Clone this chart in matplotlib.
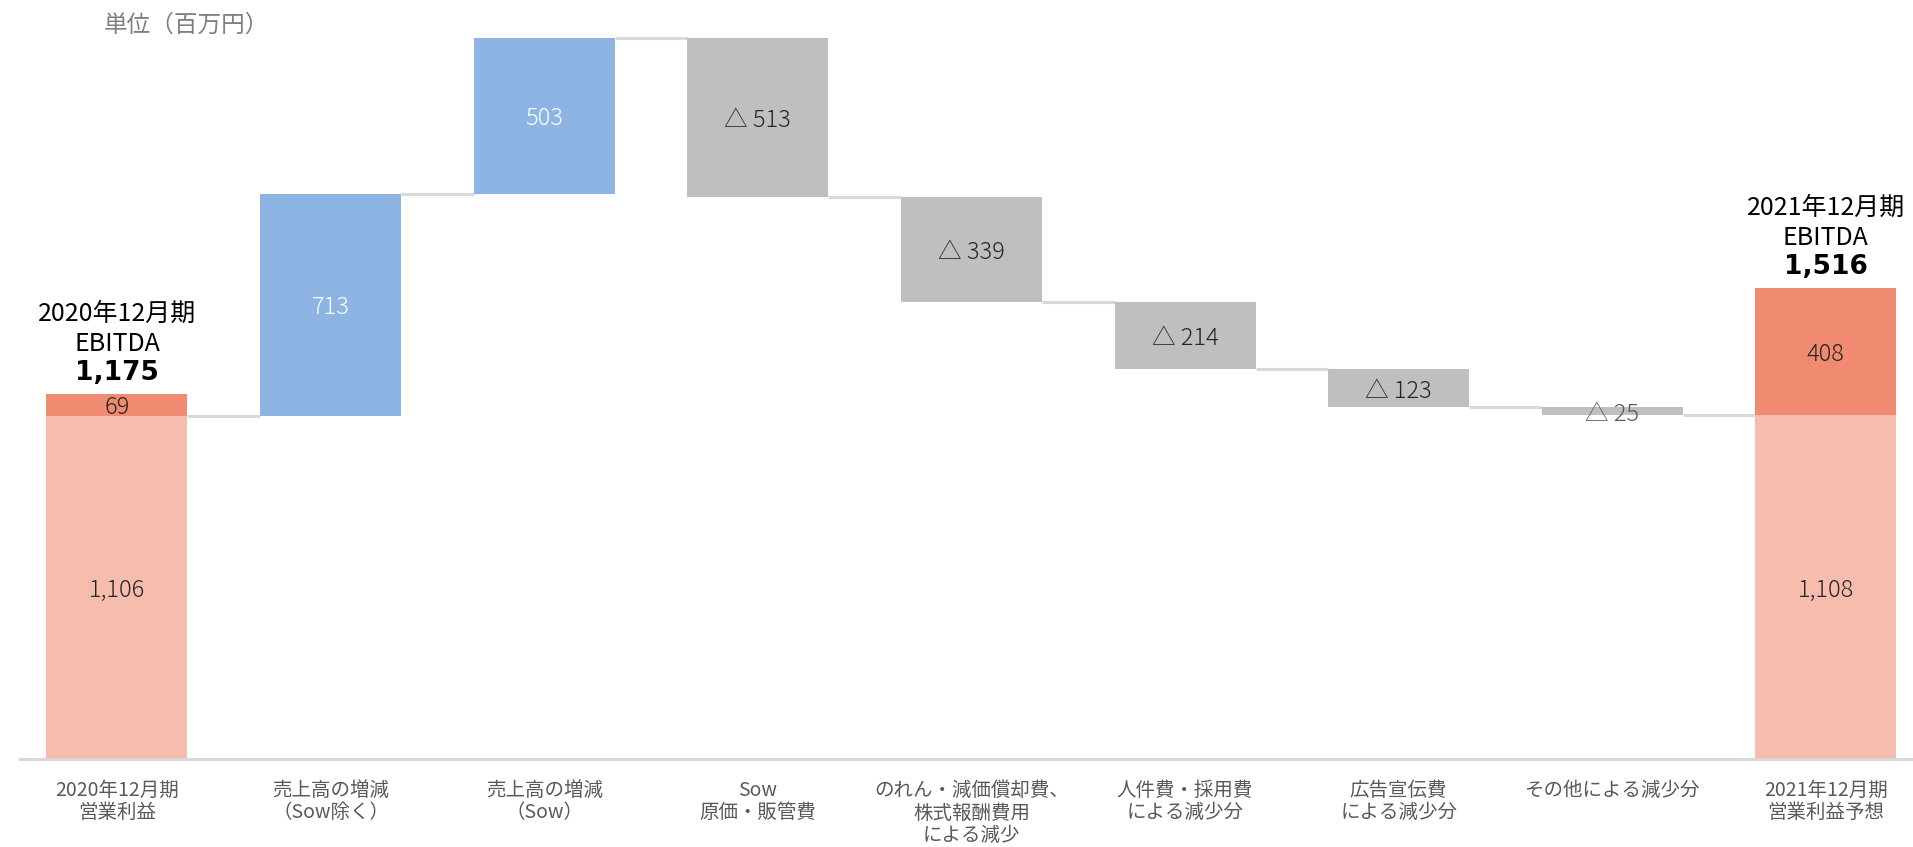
import matplotlib
matplotlib.use("Agg")
import matplotlib.pyplot as plt

plt.rcParams['font.family'] = ['Noto Sans CJK JP', 'DejaVu Sans']

# ---------------- data ----------------
categories = ["2020年12月期\n営業利益", "売上高の増減\n（Sow除く）", "売上高の増減\n（Sow）",
              "Sow\n原価・販管費", "のれん・減価償却費、\n株式報酬費用\nによる減少",
              "人件費・採用費\nによる減少分", "広告宣伝費\nによる減少分",
              "その他による減少分", "2021年12月期\n営業利益予想"]
start_op = 1106          # 2020 operating profit
start_extra = 69         # EBITDA add-back 2020
start_ebitda = 1175
deltas = [713, 503, -513, -339, -214, -123, -25]
end_op = 1108            # 2021 operating profit forecast
end_extra = 408          # EBITDA add-back 2021
end_ebitda = 1516
start_title = "2020年12月期\nEBITDA"
end_title = "2021年12月期\nEBITDA"
unit_label = "単位（百万円）"

# ---------------- style ----------------
C_LIGHT = "#F6BCAE"
C_DARK = "#F08A71"
C_UP = "#8EB4E3"
C_DOWN = "#BFBFBF"
C_CONN = "#D9D9D9"
C_TXT = "#262626"
C_CAT = "#595959"
W = 0.66
LBL = 17

fig = plt.figure(figsize=(19.13, 8.47), dpi=100)
ax = fig.add_axes([20/1913, 88/847, 1 - 20/1913, 759/847])
ax.set_xlim(-0.454, 8.408)
ax.set_ylim(0, 2444)

n = len(categories)
xs = list(range(n))


def label(x, y, s, color):
    ax.text(x, y, s, ha='center', va='center_baseline', fontsize=LBL, color=color,
            fontweight='light', zorder=3)


# start bar
ax.bar(0, start_op, width=W, color=C_LIGHT, zorder=2)
ax.bar(0, start_extra, bottom=start_op, width=W, color=C_DARK, zorder=2)
label(0, start_op/2, f"{start_op:,}", C_TXT)
label(0, start_op + start_extra/2, f"{start_extra:,}", C_TXT)

level = start_op
prev_right = 0 + W/2
for i, d in enumerate(deltas, start=1):
    bottom = min(level, level + d)
    ax.plot([prev_right, i - W/2], [level, level], color=C_CONN, lw=2.2, zorder=1, solid_capstyle='butt')
    col = C_UP if d > 0 else C_DOWN
    ax.bar(i, abs(d), bottom=bottom, width=W, color=col, zorder=2)
    if d > 0:
        lab, tc = f"{d:,}", "white"
    else:
        lab, tc = f"△ {abs(d):,}", C_TXT
    if abs(d) < 60:
        tc = C_CAT
    label(i, bottom + abs(d)/2, lab, tc)
    level += d
    prev_right = i + W/2

# end bar
last = n - 1
ax.plot([prev_right, last - W/2], [level, level], color=C_CONN, lw=2.2, zorder=1, solid_capstyle='butt')
ax.bar(last, end_op, width=W, color=C_LIGHT, zorder=2)
ax.bar(last, end_extra, bottom=end_op, width=W, color=C_DARK, zorder=2)
label(last, end_op/2, f"{end_op:,}", C_TXT)
label(last, end_op + end_extra/2, f"{end_extra:,}", C_TXT)

# EBITDA annotations
for x, top, title, val in [(0, start_op + start_extra, start_title, start_ebitda),
                           (last, end_op + end_extra, end_title, end_ebitda)]:
    ax.annotate(f"{val:,}", xy=(x, top), xytext=(0, 15), textcoords='offset points',
                ha='center', va='center', fontsize=19, fontweight='bold', color='black',
                family=['DejaVu Sans'])
    ax.annotate(title, xy=(x, top), xytext=(0, 47), textcoords='offset points',
                ha='center', va='center', fontsize=18, color='black', linespacing=1.2)

# axes styling
for s in ['top', 'right', 'left']:
    ax.spines[s].set_visible(False)
ax.spines['bottom'].set_color(C_CONN)
ax.spines['bottom'].set_linewidth(2.2)
ax.spines['bottom'].set_zorder(3)
ax.set_yticks([])
ax.set_xticks(xs)
ax.set_xticklabels(categories, fontsize=14, color=C_CAT, linespacing=1.1)
ax.tick_params(axis='x', length=0, pad=15)

fig.text(104/1913, 1 - 25/847, unit_label, ha='left', va='center', fontsize=17, color="#7F7F7F")

fig.savefig("out.png", dpi=100)
